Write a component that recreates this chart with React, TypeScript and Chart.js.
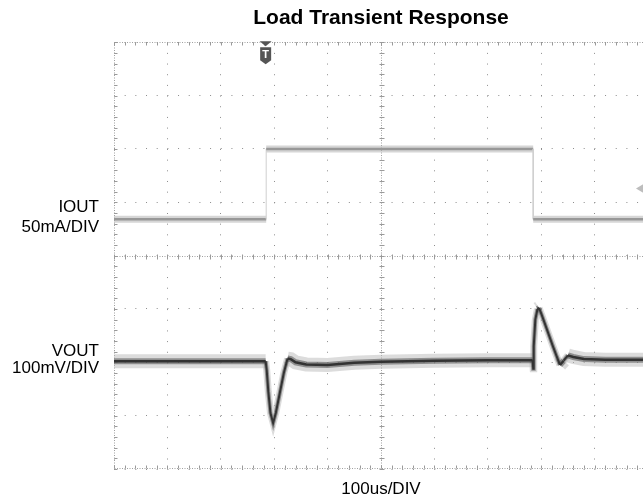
import React, { useEffect, useRef } from 'react';
import { Chart, registerables } from 'chart.js';

Chart.register(...registerables);

// ---- text ----
const TITLE = 'Load Transient Response';
const X_LABEL = '100us/DIV';
const IOUT_LABEL = ['IOUT', '50mA/DIV'];
const VOUT_LABEL = ['VOUT', '100mV/DIV'];

// ---- axes: time in microseconds (10 div x 100us), vertical in screen divisions ----
const X_MIN = 0;
const X_MAX = 1000;
const X_STEP = 100;
const Y_MIN = -4;
const Y_MAX = 4;
const Y_STEP = 1;

// ---- IOUT trace (divisions, 50mA/div) ----
const IOUT_T = [0, 285, 285, 785, 785, 1000];
const IOUT_V = [0.68, 0.68, 2.0, 2.0, 0.68, 0.68];

// ---- VOUT trace (divisions, 100mV/div) ----
const VOUT_T = [0, 284, 286, 289, 293, 298, 303, 310, 318, 325, 331, 340, 360, 400, 450, 500, 600, 700, 784, 785, 786, 789, 793, 796, 802, 812, 822, 835, 842, 850, 860, 880, 920, 1000];
const VOUT_V = [-1.98, -1.98, -2.15, -2.55, -2.95, -3.14, -2.95, -2.6, -2.2, -1.93, -1.94, -2.0, -2.04, -2.05, -2.01, -1.99, -1.97, -1.96, -1.96, -2.12, -1.7, -1.2, -1.0, -0.98, -1.14, -1.42, -1.7, -2.05, -1.97, -1.87, -1.9, -1.94, -1.95, -1.95];

// ---- scope markers ----
const TRIGGER_T = 284;
const IOUT_REF_DIV = 1.26;

const FONT = '"Liberation Sans", Arial, Helvetica, sans-serif';

const toPts = (t: number[], v: number[]) => t.map((x, i) => ({ x, y: v[i] }));

const isVertical = (c: any) => c.p0.parsed.x === c.p1.parsed.x;
const isSteep = (c: any) => Math.abs(c.p1.parsed.y - c.p0.parsed.y) > 0.08;

const scopePlugin = {
  id: 'scopeDecor',
  beforeDatasetsDraw(chart: any) {
    const { ctx, chartArea } = chart;
    const xs = chart.scales.x;
    const ys = chart.scales.y;
    const L = Math.round(chartArea.left) + 0.5;
    const R = Math.round(chartArea.right) - 0.5;
    const T = Math.round(chartArea.top) + 0.5;
    const B = Math.round(chartArea.bottom) - 0.5;
    const cx = Math.round(xs.getPixelForValue((X_MIN + X_MAX) / 2)) + 0.5;
    const cy = Math.round(ys.getPixelForValue((Y_MIN + Y_MAX) / 2)) + 0.5;
    ctx.save();
    ctx.strokeStyle = '#a0a0a0';
    ctx.lineWidth = 1;
    // dense dotted border and centre cross
    ctx.setLineDash([1, 1.5]);
    ctx.beginPath();
    ctx.moveTo(L, T); ctx.lineTo(R, T);
    ctx.moveTo(L, B); ctx.lineTo(R, B);
    ctx.moveTo(L, T); ctx.lineTo(L, B);
    ctx.moveTo(R, T); ctx.lineTo(R, B);
    ctx.moveTo(L, cy); ctx.lineTo(R, cy);
    ctx.moveTo(cx, T); ctx.lineTo(cx, B);
    ctx.stroke();
    // minor ticks (5 per division)
    ctx.setLineDash([]);
    ctx.strokeStyle = '#9a9a9a';
    ctx.beginPath();
    const xm = X_STEP / 5;
    for (let v = X_MIN; v <= X_MAX + 1e-6; v += xm) {
      const x = Math.round(xs.getPixelForValue(v)) + 0.5;
      ctx.moveTo(x, T); ctx.lineTo(x, T + 3);
      ctx.moveTo(x, B); ctx.lineTo(x, B - 3);
      ctx.moveTo(x, cy - 2); ctx.lineTo(x, cy + 3);
    }
    const ym = Y_STEP / 5;
    for (let v = Y_MIN; v <= Y_MAX + 1e-6; v += ym) {
      const y = Math.round(ys.getPixelForValue(v)) + 0.5;
      ctx.moveTo(L, y); ctx.lineTo(L + 3, y);
      ctx.moveTo(R, y); ctx.lineTo(R - 3, y);
      ctx.moveTo(cx - 2, y); ctx.lineTo(cx + 3, y);
    }
    ctx.stroke();
    ctx.restore();
  },
  afterDraw(chart: any) {
    const { ctx, chartArea } = chart;
    const xs = chart.scales.x;
    const ys = chart.scales.y;
    ctx.save();
    // trigger marker
    const tx = xs.getPixelForValue(TRIGGER_T);
    const top = chartArea.top;
    ctx.fillStyle = '#555';
    ctx.beginPath();
    ctx.moveTo(tx - 6, top - 1);
    ctx.lineTo(tx + 6, top - 1);
    ctx.lineTo(tx, top + 4);
    ctx.closePath();
    ctx.fill();
    ctx.beginPath();
    ctx.moveTo(tx - 5.5, top + 5);
    ctx.lineTo(tx + 5.5, top + 5);
    ctx.lineTo(tx + 5.5, top + 18);
    ctx.lineTo(tx, top + 22);
    ctx.lineTo(tx - 5.5, top + 18);
    ctx.closePath();
    ctx.fill();
    ctx.fillStyle = '#fff';
    ctx.font = `bold 11px ${FONT}`;
    ctx.textAlign = 'center';
    ctx.textBaseline = 'middle';
    ctx.fillText('T', tx, top + 12.5);
    // IOUT reference marker on the right edge
    const ry = ys.getPixelForValue(IOUT_REF_DIV);
    const rx = chartArea.right - 12;
    ctx.fillStyle = '#bdbdbd';
    ctx.beginPath();
    ctx.moveTo(rx, ry);
    ctx.lineTo(rx + 10, ry - 6);
    ctx.lineTo(rx + 10, ry + 6);
    ctx.closePath();
    ctx.fill();
    // channel labels
    ctx.fillStyle = '#000';
    ctx.font = `17px ${FONT}`;
    ctx.textAlign = 'right';
    ctx.textBaseline = 'middle';
    const lx = chartArea.left - 15;
    ctx.fillText(IOUT_LABEL[0], lx, ys.getPixelForValue(0.91));
    ctx.fillText(IOUT_LABEL[1], lx, ys.getPixelForValue(0.535));
    ctx.fillText(VOUT_LABEL[0], lx, ys.getPixelForValue(-1.8));
    ctx.fillText(VOUT_LABEL[1], lx, ys.getPixelForValue(-2.12));
    ctx.restore();
  },
};

export default function App() {
  const ref = useRef<HTMLCanvasElement | null>(null);

  useEffect(() => {
    if (!ref.current) return;
    const iout = toPts(IOUT_T, IOUT_V);
    const vout = toPts(VOUT_T, VOUT_V);
    const chart = new Chart(ref.current, {
      type: 'line',
      data: {
        datasets: [
          {
            label: 'VOUT',
            data: vout,
            borderColor: '#333',
            borderWidth: 2.5,
            pointRadius: 0,
            tension: 0,
            segment: { borderWidth: (c: any) => (isSteep(c) ? 2 : undefined) },
          },
          {
            label: 'IOUT',
            data: iout,
            borderColor: '#989898',
            borderWidth: 2.5,
            pointRadius: 0,
            tension: 0,
            segment: {
              borderWidth: (c: any) => (isVertical(c) ? 1 : undefined),
              borderColor: (c: any) => (isVertical(c) ? '#cfcfcf' : undefined),
            },
          },
          {
            label: 'VOUT band',
            data: vout,
            borderColor: 'rgba(80,80,80,0.55)',
            borderWidth: 6,
            pointRadius: 0,
            tension: 0,
            segment: { borderWidth: (c: any) => (isSteep(c) ? 4 : undefined) },
          },
          {
            label: 'VOUT noise',
            data: vout,
            borderColor: 'rgba(185,185,185,0.5)',
            borderWidth: 14,
            pointRadius: 0,
            tension: 0,
            segment: { borderWidth: (c: any) => (isSteep(c) ? 7 : undefined) },
          },
          {
            label: 'IOUT noise',
            data: iout,
            borderColor: 'rgba(180,180,180,0.55)',
            borderWidth: 7,
            pointRadius: 0,
            tension: 0,
            segment: {
              borderColor: (c: any) => (isVertical(c) ? 'rgba(0,0,0,0)' : undefined),
            },
          },
        ],
      },
      options: {
        animation: false,
        responsive: false,
        devicePixelRatio: 1,
        layout: { padding: { left: 114, right: 12, top: 0, bottom: 2 } },
        plugins: {
          legend: { display: false },
          tooltip: { enabled: false },
          title: {
            display: true,
            text: TITLE,
            color: '#000',
            font: { family: FONT, size: 21, weight: 'bold', lineHeight: 1.2 },
            padding: { top: 6, bottom: 11 },
          },
        },
        scales: {
          x: {
            type: 'linear',
            min: X_MIN,
            max: X_MAX,
            ticks: { display: false, stepSize: X_STEP },
            grid: { color: '#8c8c8c', lineWidth: 1, drawTicks: false },
            border: { display: false, dash: [1, 9.675] },
            title: {
              display: true,
              text: X_LABEL,
              color: '#000',
              font: { family: FONT, size: 17, lineHeight: 1 },
              padding: { top: 12, bottom: 0 },
            },
          },
          y: {
            type: 'linear',
            min: Y_MIN,
            max: Y_MAX,
            ticks: { display: false, stepSize: Y_STEP },
            grid: { color: '#8c8c8c', lineWidth: 1, drawTicks: false },
            border: { display: false, dash: [1, 9.675] },
          },
        },
      },
      plugins: [scopePlugin],
    } as any);
    return () => chart.destroy();
  }, []);

  return (
    <div
      style={{
        position: 'fixed',
        left: 0,
        top: 0,
        width: 643,
        height: 500,
        overflow: 'hidden',
        background: '#fff',
      }}
    >
      <canvas ref={ref} width={660} height={500} style={{ display: 'block', width: 660, height: 500 }} />
    </div>
  );
}
